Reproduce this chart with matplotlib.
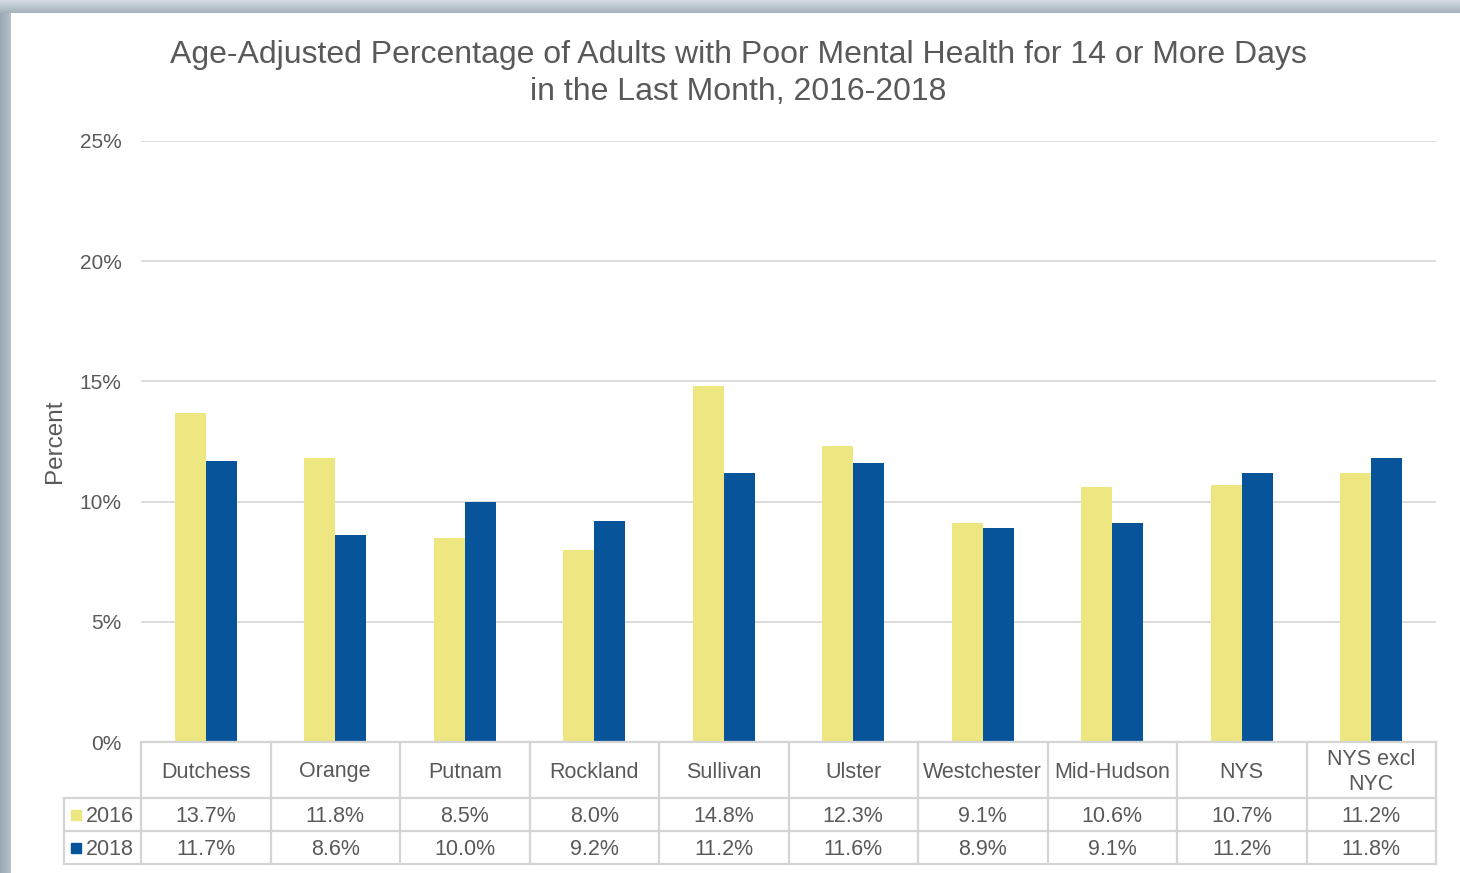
import matplotlib
matplotlib.use("Agg")
import matplotlib.pyplot as plt
from matplotlib.patches import Rectangle
from matplotlib.lines import Line2D
import matplotlib.transforms as mtransforms
import numpy as np

plt.rcParams['font.family'] = ['Liberation Sans', 'DejaVu Sans']

categories = ["Dutchess", "Orange", "Putnam", "Rockland", "Sullivan", "Ulster",
              "Westchester", "Mid-Hudson", "NYS", "NYS excl\nNYC"]
series_names = ["2016", "2018"]
values_2016 = [13.7, 11.8, 8.5, 8.0, 14.8, 12.3, 9.1, 10.6, 10.7, 11.2]
values_2018 = [11.7, 8.6, 10.0, 9.2, 11.2, 11.6, 8.9, 9.1, 11.2, 11.8]
yticks = [0, 5, 10, 15, 20, 25]

c2016 = "#EDE681"
c2018 = "#08549A"
txt = "#595959"
grid = "#D9D9D9"
tline = "#D4D4D4"

W, H = 1460, 873
fig = plt.figure(figsize=(W / 100, H / 100), dpi=100)
fig.patch.set_facecolor("white")

# frame bars (gradient)
grad_left = np.linspace(0, 1, 32).reshape(1, -1)
axl = fig.add_axes([0, 0, 11 / W, 1])
axl.imshow(grad_left, aspect="auto", cmap=matplotlib.colors.LinearSegmentedColormap.from_list(
    "l", ["#9AA8B4", "#B5C0CA"]), extent=[0, 1, 0, 1])
axl.set_axis_off()
grad_top = np.linspace(0, 1, 32).reshape(-1, 1)
axt = fig.add_axes([0, 1 - 13 / H, 1, 13 / H])
axt.imshow(grad_top, aspect="auto", cmap=matplotlib.colors.LinearSegmentedColormap.from_list(
    "t", ["#D6DCE2", "#A5B2BD"]), extent=[0, 1, 0, 1], origin="upper")
axt.set_axis_off()

ax = fig.add_axes([141 / W, 1 - 742 / H, (1436 - 141) / W, (742 - 141) / H])
x = np.arange(len(categories))
bw = 0.24
ax.bar(x - bw / 2, values_2016, width=bw, color=c2016, zorder=3)
ax.bar(x + bw / 2, values_2018, width=bw, color=c2018, zorder=3)
ax.set_xlim(-0.5, len(categories) - 0.5)
ax.set_ylim(0, 25)
ax.set_yticks(yticks)
ax.set_yticklabels([f"{v}%" for v in yticks], color=txt, fontsize=15)
ax.tick_params(axis="y", length=0, pad=14)
ax.set_xticks([])
for s in ax.spines.values():
    s.set_visible(False)
ax.grid(axis="y", color=grid, linewidth=1.3, zorder=0)
ax.set_ylabel("Percent", fontsize=17.5, color=txt, labelpad=10)

fig.text(738 / W, 1 - 55 / H, "Age-Adjusted Percentage of Adults with Poor Mental Health for 14 or More Days",
         ha="center", va="center", fontsize=23, color=txt)
fig.text(738 / W, 1 - 92 / H, "in the Last Month, 2016-2018",
         ha="center", va="center", fontsize=23, color=txt)

# table
tr = mtransforms.blended_transform_factory(ax.transData, fig.transFigure)
def fy(py):
    return 1 - py / H

n = len(categories)
xl = -0.5
xr = n - 0.5
xleg = xl - (141 - 64) / 129.5
y0, y1, y2, y3 = fy(742), fy(798), fy(831), fy(864)
dy = 2 / H

def line(xs, ys):
    fig.add_artist(Line2D(xs, ys, transform=tr, color=tline, linewidth=1.6, clip_on=False))

line([xl, xr], [y0, y0])
line([xleg, xr], [y1, y1])
line([xleg, xr], [y2, y2])
line([xleg, xr], [y3, y3])
for k in range(n + 1):
    line([xl + k, xl + k], [y0, y3])
line([xleg, xleg], [y1, y3])

for i, c in enumerate(categories):
    fig.text(i, (y0 + y1) / 2 - dy, c, transform=tr, ha="center", va="center",
             fontsize=15.5, color=txt, linespacing=1.2)
    fig.text(i, (y1 + y2) / 2 - dy, f"{values_2016[i]:.1f}%", transform=tr, ha="center",
             va="center", fontsize=15.5, color=txt)
    fig.text(i, (y2 + y3) / 2 - dy, f"{values_2018[i]:.1f}%", transform=tr, ha="center",
             va="center", fontsize=15.5, color=txt)

for name, col, (ya, yb) in zip(series_names, [c2016, c2018], [(y1, y2), (y2, y3)]):
    ym = (ya + yb) / 2
    fig.patches.append(Rectangle((71 / W, ym - 5 / H), 10 / W, 10 / H,
                                 transform=fig.transFigure, color=col))
    fig.text(86 / W, ym - dy, name, ha="left", va="center", fontsize=15.5, color=txt)

fig.savefig("out.png", dpi=100)
